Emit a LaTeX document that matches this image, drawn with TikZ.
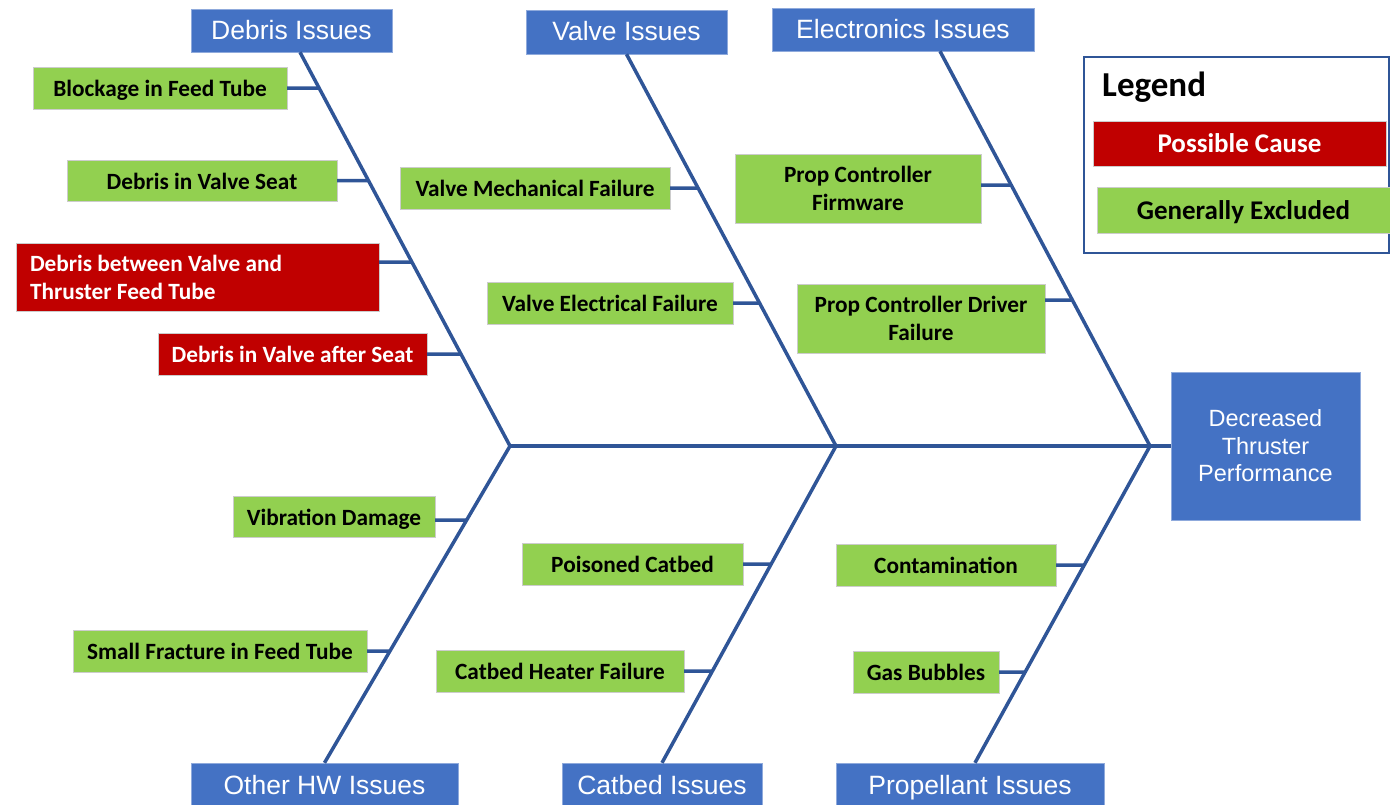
\documentclass[tikz,border=0pt]{standalone}
\usepackage{fontspec}
\setmainfont{Liberation Sans}
\newfontfamily\calibri{Carlito}
\definecolor{catblue}{HTML}{4472C4}
\definecolor{exgreen}{HTML}{92D050}
\definecolor{posred}{HTML}{C00000}
\definecolor{bonecol}{HTML}{2F5597}
\begin{document}
\begin{tikzpicture}[x=1pt, y=-1pt,
    catbox/.style={fill=catblue, draw=catblue!60!white, text=white, inner sep=0pt,
      minimum height=43, text height=20, text depth=3, font=\fontsize{26.5}{31}\selectfont},
    twoline/.style={fill=exgreen, draw=black!20, inner sep=0pt, minimum height=42,
      align=center, font=\calibri\bfseries\fontsize{23.3}{28}\selectfont},
    cause/.style={twoline, text height=19, text depth=2},
    possible/.style={cause, fill=posred, text=white},
    legfont/.style={font=\calibri\bfseries\fontsize{27}{32}\selectfont, text height=21, text depth=3},
    bone/.style={bonecol, line width=3.5pt},
  ]
  \useasboundingbox (0,0) rectangle (1390,804);
  % Categories and effect
  \node[catbox, minimum width=201] (deb) at (291.5,30.5) {Debris Issues};
  \node[catbox, minimum width=201, minimum height=44] (valv) at (626.5,32) {Valve Issues};
  \node[catbox, minimum width=262] (elec) at (903,29.5) {Electronics Issues};
  \node[catbox, minimum width=267, minimum height=46] (oth) at (324.5,786) {Other HW Issues};
  \node[catbox, minimum width=200, minimum height=46] (catb) at (662,786) {Catbed Issues};
  \node[catbox, minimum width=268, minimum height=46] (prop) at (970,786) {Propellant Issues};
  \node[fill=catblue, draw=catblue!60!white, text=white, minimum width=189, minimum height=148,
    align=center, font=\fontsize{23.5}{27.5}\selectfont] (eff) at (1265.5,446) {Decreased\\Thruster\\Performance};
  % Causes
  \node[cause, minimum width=254] (blk) at (160,88) {Blockage in Feed Tube};
  \node[cause, minimum width=270, minimum height=41] (dvs) at (202,180.5) {Debris in Valve Seat};
  \node[twoline, fill=posred, text=white, minimum width=363, minimum height=68, text width=335,
    align=flush left] (dbv) at (197.5,277) {Debris between Valve and\\Thruster Feed Tube};
  \node[possible, minimum width=269] (dva) at (292.5,354) {Debris in Valve after Seat};
  \node[cause, minimum width=270] (vmf) at (535,188) {Valve Mechanical Failure};
  \node[cause, minimum width=246] (vef) at (610,303) {Valve Electrical Failure};
  \node[twoline, minimum width=246, minimum height=69] (pcf) at (858,188.5) {Prop Controller\\Firmware};
  \node[twoline, minimum width=248, minimum height=69] (pcd) at (921,318.5) {Prop Controller Driver\\Failure};
  \node[cause, minimum width=202, minimum height=41] (vib) at (334,516.5) {Vibration Damage};
  \node[cause, minimum width=294] (sff) at (220,651) {Small Fracture in Feed Tube};
  \node[cause, minimum width=221] (poi) at (632.5,564) {Poisoned Catbed};
  \node[cause, minimum width=248] (chf) at (560,671) {Catbed Heater Failure};
  \node[cause, minimum width=220] (con) at (946,565) {Contamination};
  \node[cause, minimum width=146] (gas) at (926,672) {Gas Bubbles};
  % Legend
  \node[draw=bonecol, line width=1.5pt, minimum width=305, minimum height=196] (legend) at (1236.5,155) {};
  \node[anchor=west, inner sep=0pt, font=\calibri\bfseries\fontsize{35}{40}\selectfont] (legtitle) at (1102,87) {Legend};
  \node[possible, legfont, minimum width=293, minimum height=45] (pc) at (1239.5,143.5) {Possible Cause};
  \node[cause, legfont, minimum width=293, minimum height=46] (ge) at (1243.5,210) {Generally Excluded};
  % Bones
  \coordinate (j1) at (510,446);
  \coordinate (j2) at (836,446);
  \coordinate (j3) at (1150,446);
  \coordinate (debT) at ([xshift=8.5]deb.south);
  \coordinate (elecT) at ([xshift=37]elec.south);
  \coordinate (propB) at ([xshift=5]prop.north);
  \draw[bone] (j1) -- (eff.west);
  \draw[bone] (debT) -- (j1) -- (oth.north);
  \draw[bone] (valv.south) -- (j2) -- (catb.north);
  \draw[bone] (elecT) -- (j3) -- (propB);
  % Ticks
  \draw[bone] (blk.east) -- (intersection of blk.east--blk.west and debT--j1);
  \draw[bone] (dvs.east) -- (intersection of dvs.east--dvs.west and debT--j1);
  \draw[bone] ([yshift=15]dbv.east) -- (intersection cs: first line={([yshift=15]dbv.east)--([yshift=15]dbv.west)}, second line={(debT)--(j1)});
  \draw[bone] (dva.east) -- (intersection of dva.east--dva.west and debT--j1);
  \draw[bone] (vmf.east) -- (intersection of vmf.east--vmf.west and valv.south--j2);
  \draw[bone] (vef.east) -- (intersection of vef.east--vef.west and valv.south--j2);
  \draw[bone] ([yshift=3.5]pcf.east) -- (intersection cs: first line={([yshift=3.5]pcf.east)--([yshift=3.5]pcf.west)}, second line={(elecT)--(j3)});
  \draw[bone] ([yshift=18.5]pcd.east) -- (intersection cs: first line={([yshift=18.5]pcd.east)--([yshift=18.5]pcd.west)}, second line={(elecT)--(j3)});
  \draw[bone] ([yshift=-3.5]vib.east) -- (intersection cs: first line={([yshift=-3.5]vib.east)--([yshift=-3.5]vib.west)}, second line={(j1)--(oth.north)});
  \draw[bone] (sff.east) -- (intersection of sff.east--sff.west and j1--oth.north);
  \draw[bone] (poi.east) -- (intersection of poi.east--poi.west and j2--catb.north);
  \draw[bone] (chf.east) -- (intersection of chf.east--chf.west and j2--catb.north);
  \draw[bone] (con.east) -- (intersection of con.east--con.west and j3--propB);
  \draw[bone] (gas.east) -- (intersection of gas.east--gas.west and j3--propB);
\end{tikzpicture}
\end{document}
